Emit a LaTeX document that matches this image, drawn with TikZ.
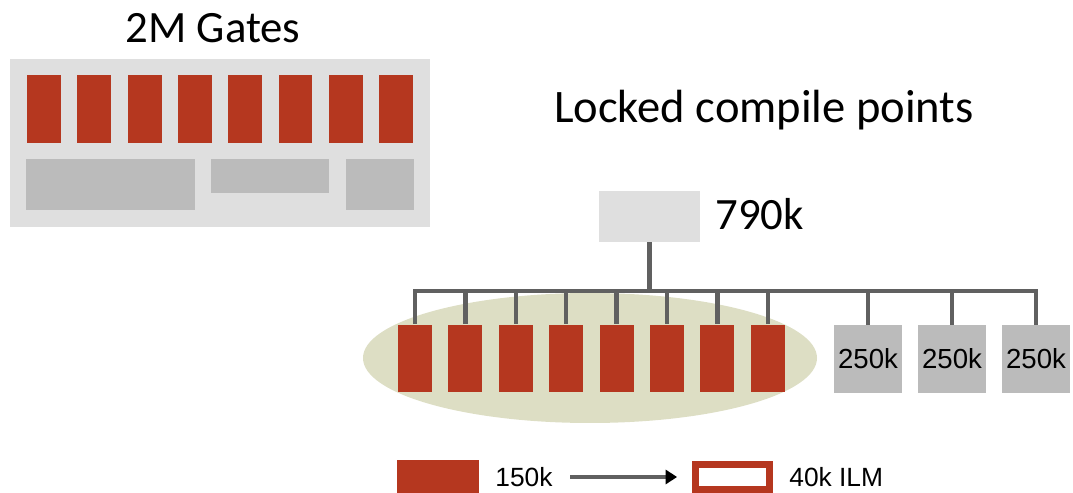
\documentclass[tikz,border=0pt]{standalone}
\usepackage{fontspec}
\setmainfont{Carlito}
\newfontfamily\numfont{Liberation Sans}
\usetikzlibrary{arrows.meta, positioning}
\definecolor{gatered}{HTML}{B5371F}
\definecolor{panelgray}{HTML}{DFDFDF}
\definecolor{blockgray}{HTML}{BBBBBB}
\definecolor{wiregray}{HTML}{606060}
\definecolor{lockolive}{HTML}{DDDEC4}

\tikzset{
  gatebar/.style={fill=gatered, inner sep=0, minimum width=0.68cm, minimum height=1.36cm},
  cpbox/.style={fill=blockgray, inner sep=0, minimum width=1.36cm, minimum height=1.36cm, font=\numfont\fontsize{15.7}{19}\selectfont},
  wire/.style={draw=wiregray, line width=2.4pt},
  bigtext/.style={inner sep=0, font=\fontsize{25.5}{30}\selectfont},
  legtext/.style={inner sep=0, font=\numfont\fontsize{15}{18}\selectfont}
}

\begin{document}
\begin{tikzpicture}[x=0.02cm, y=-0.02cm]
  \useasboundingbox (0,0) rectangle (1073,493);

  % full design: 2M gates
  \node[bigtext, anchor=base] (gatestitle) at (213,43) {2M Gates};
  \fill[panelgray] (10,59) rectangle (430,227);
  \foreach \i in {1,...,8}
    \node[gatebar] (lg\i) at ({44+50.3*(\i-1)},109) {};
  \fill[blockgray] (26,159) rectangle (195,210);
  \fill[blockgray] (211,159) rectangle (329,193);
  \fill[blockgray] (346,159) rectangle (414,210);

  % locked compile points
  \node[bigtext, anchor=base, font=\fontsize{26.5}{30}\selectfont] (locktitle) at (764,123) {Locked compile points};
  \node[fill=panelgray, inner sep=0, minimum width=2.02cm, minimum height=1.02cm] (top) at (649.5,216.5) {};
  \node[bigtext, anchor=base west] (toplabel) at (715,230) {790k};

  \fill[lockolive] (590,358) ellipse [x radius=227, y radius=65];
  \foreach \i in {1,...,8}
    \node[gatebar] (rb\i) at ({415+50.4*(\i-1)},358.5) {};
  \foreach \i/\x in {1/868, 2/952, 3/1036}
    \node[cpbox] (cp\i) at (\x,359) {250k};

  \coordinate (bus) at (0,291);
  \draw[wire] (top.south) -- (top.south |- bus);
  \draw[wire, line cap=rect] (rb1.north |- bus) -- (cp3.north |- bus);
  \foreach \i in {1,...,8}
    \draw[wire] (rb\i.north |- bus) -- (rb\i.north);
  \foreach \i in {1,...,3}
    \draw[wire] (cp\i.north |- bus) -- (cp\i.north);

  % legend
  \node[fill=gatered, inner sep=0, minimum width=1.64cm, minimum height=0.66cm] (leg150) at (438,476.5) {};
  \node[legtext, anchor=base west] (t150) at (495,487) {150k};
  \node[draw=gatered, line width=4pt, fill=white, inner sep=0, minimum width=1.48cm, minimum height=0.5cm] (legilm) at (732.5,477) {};
  \node[legtext, anchor=base west] (tilm) at (789,487) {40k ILM};
  \draw[wire, shorten <=10pt, shorten >=8.5pt, -{Triangle[color=black, length=6.5pt, width=8pt]}]
    (t150.east |- legilm.west) -- (legilm.west);
\end{tikzpicture}
\end{document}
